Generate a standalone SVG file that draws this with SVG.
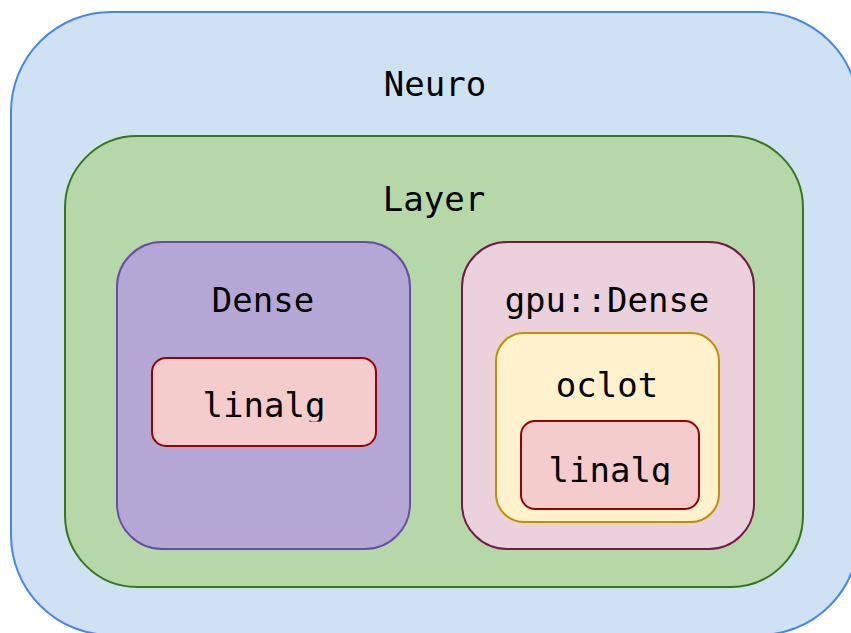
<svg xmlns="http://www.w3.org/2000/svg" width="851" height="633" viewBox="0 0 851 633">
  <style>
    .lbl { font-family: "DejaVu Sans Mono", "Liberation Mono", monospace; font-size: 34px; fill: #000000; text-anchor: middle; }
    .box { stroke-width: 2; }
    .neuro { fill: #cfe2f3; stroke: #4a86e8; }
    .layer { fill: #b6d7a8; stroke: #38761d; }
    .dense { fill: #b4a7d6; stroke: #674ea7; }
    .gpu { fill: #ead1dc; stroke: #741b47; }
    .oclot { fill: #fff2cc; stroke: #bf9000; }
    .linalg { fill: #f4cccc; stroke: #990000; }
  </style>
  <defs>
    <clipPath id="clip-linalg-a"><rect x="152" y="380" width="224" height="41.5"/></clipPath>
    <clipPath id="clip-linalg-b"><rect x="521" y="440" width="178" height="45"/></clipPath>
  </defs>

  <g id="neuro">
    <rect class="box neuro" x="11" y="12" width="848" height="623" rx="100" ry="100"/>
    <text class="lbl" x="435" y="96">Neuro</text>
  </g>

  <g id="layer">
    <rect class="box layer" x="65" y="136" width="738" height="451" rx="72" ry="72"/>
    <text class="lbl" x="434" y="211">Layer</text>
  </g>

  <g id="dense">
    <rect class="box dense" x="117" y="242" width="293" height="307" rx="45" ry="45"/>
    <text class="lbl" x="263" y="312">Dense</text>
  </g>

  <g id="dense-linalg">
    <rect class="box linalg" x="152" y="358" width="224" height="88" rx="14" ry="14"/>
    <text class="lbl" x="264" y="417" clip-path="url(#clip-linalg-a)">linalg</text>
  </g>

  <g id="gpu-dense">
    <rect class="box gpu" x="462" y="242" width="292" height="307" rx="45" ry="45"/>
    <text class="lbl" x="607" y="312">gpu::Dense</text>
  </g>

  <g id="oclot">
    <rect class="box oclot" x="496" y="333" width="223" height="189" rx="28" ry="28"/>
    <text class="lbl" x="607" y="397">oclot</text>
  </g>

  <g id="oclot-linalg">
    <rect class="box linalg" x="521" y="421" width="178" height="88" rx="14" ry="14"/>
    <text class="lbl" x="610" y="482" clip-path="url(#clip-linalg-b)">linalg</text>
  </g>

  <g id="connectors"/>
</svg>
